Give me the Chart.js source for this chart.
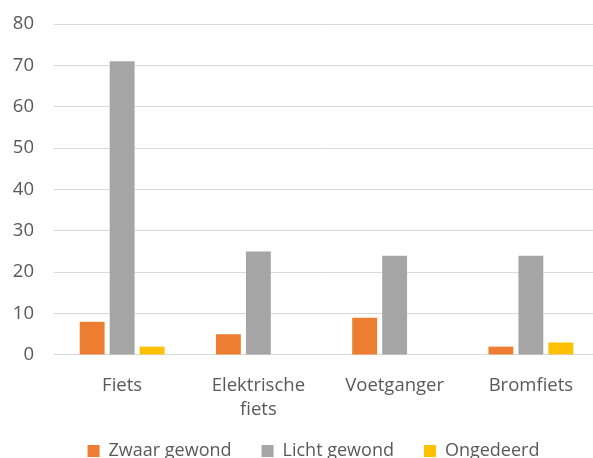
<!DOCTYPE html>
<html>
<head>
<meta charset="utf-8">
<script src="https://cdn.jsdelivr.net/npm/chart.js@4"></script>
<style>
  html, body { margin: 0; padding: 0; background: #fff; overflow: hidden; }
  #wrap { position: absolute; left: 0; top: 0; }
</style>
</head>
<body>
<div id="wrap"><canvas id="letsel" width="610" height="499"></canvas></div>
<script>
// Slachtoffers per vervoerswijze, naar ernst van het letsel
const categorieen = ['Fiets', ['Elektrische', 'fiets'], 'Voetganger', 'Bromfiets'];
const zwaarGewond = [8, 5, 9, 2];
const lichtGewond = [71, 25, 24, 24];
const ongedeerd = [2, 0, 0, 3];

const tekstKleur = '#595959';
const lettertype = '"Open Sans", Lato, sans-serif';

// legenda iets verschuiven, zoals in het origineel
const legendaVerschuiving = {
  id: 'legendaVerschuiving',
  afterLayout(chart) {
    const lg = chart.legend;
    lg.left += 14;
    lg.right += 14;
    lg.top -= 29;
    lg.bottom -= 29;
  }
};

new Chart(document.getElementById('letsel'), {
  type: 'bar',
  data: {
    labels: categorieen,
    datasets: [
      { label: 'Zwaar gewond', data: zwaarGewond, backgroundColor: '#ED7D31' },
      { label: 'Licht gewond', data: lichtGewond, backgroundColor: '#A5A5A5' },
      { label: 'Ongedeerd', data: ongedeerd, backgroundColor: '#FFC000' }
    ]
  },
  plugins: [legendaVerschuiving],
  options: {
    responsive: false,
    animation: false,
    devicePixelRatio: 1,
    layout: { padding: { left: 0, right: 11, top: 0, bottom: 0 } },
    datasets: { bar: { categoryPercentage: 0.66, barPercentage: 0.83 } },
    scales: {
      x: {
        grid: { display: false, drawTicks: false },
        border: { display: false },
        ticks: { color: tekstKleur, padding: 19, font: { family: lettertype, size: 18.5, lineHeight: 1.3 } }
      },
      y: {
        min: 0,
        max: 80,
        ticks: { stepSize: 10, color: tekstKleur, padding: 20, font: { family: lettertype, size: 18.5 } },
        grid: { color: '#d9d9d9', lineWidth: 1, drawTicks: false },
        border: { display: false },
        afterFit(scale) {
          scale.width = 54;
          scale.paddingTop = 24;
        }
      }
    },
    plugins: {
      tooltip: { enabled: false },
      legend: {
        position: 'bottom',
        labels: {
          color: tekstKleur,
          boxWidth: 12,
          boxHeight: 12,
          padding: 30,
          font: { family: lettertype, size: 18 }
        }
      }
    }
  }
});
</script>
</body>
</html>
